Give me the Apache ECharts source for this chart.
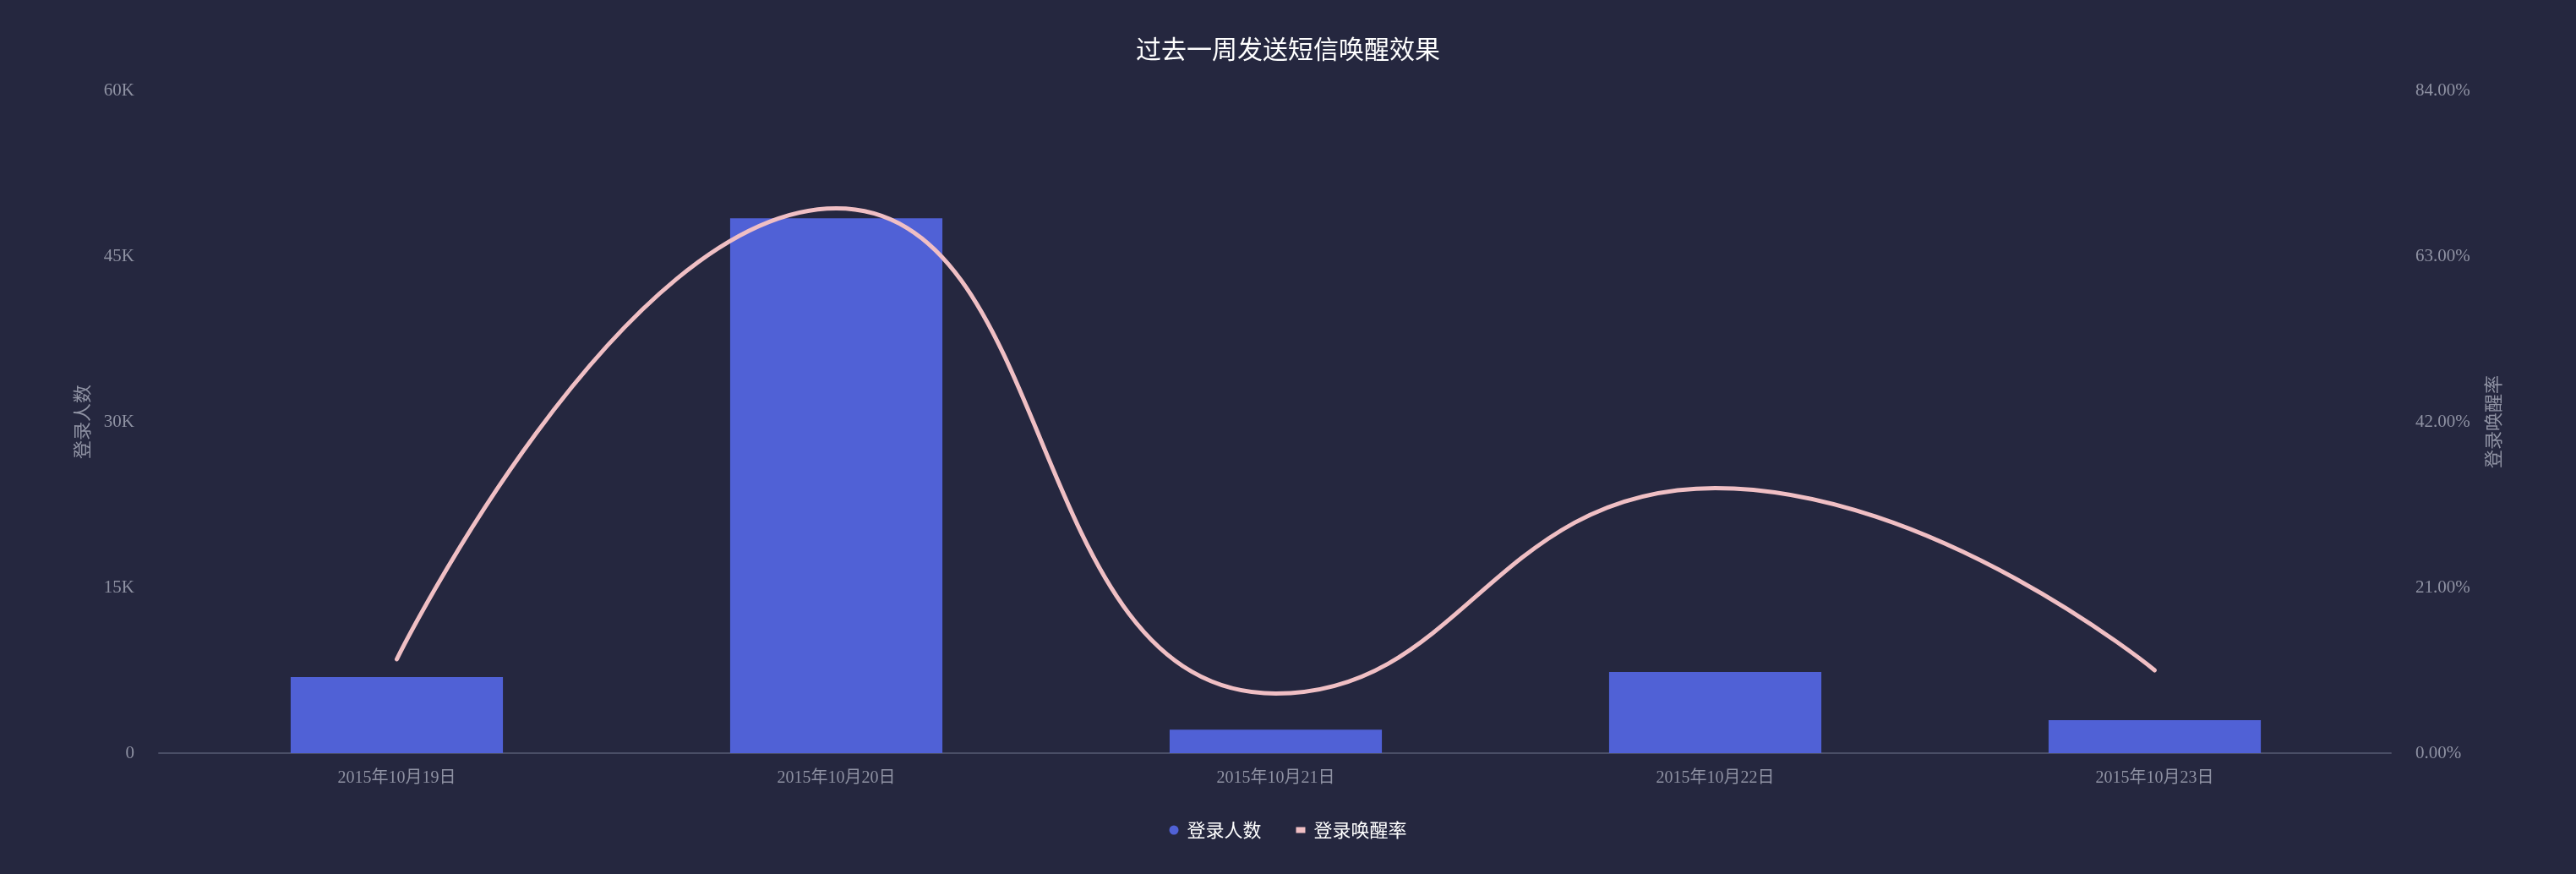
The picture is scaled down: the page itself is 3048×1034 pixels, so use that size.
<!DOCTYPE html>
<html>
<head>
<meta charset="utf-8">
<script src="https://cdn.jsdelivr.net/npm/echarts@6/dist/echarts.min.js"></script>
<style>
  html, body { margin: 0; padding: 0; background: #25273f; }
  #main { width: 3048px; height: 1034px; }
</style>
</head>
<body>
<div id="main"></div>
<script>
// 数据
const dates = ["2015年10月19日", "2015年10月20日", "2015年10月21日", "2015年10月22日", "2015年10月23日"];
const loginCounts = [6890, 48420, 2120, 7350, 2990];
const wakeRates = [11.9, 69.05, 7.55, 33.6, 10.5];

const countTicks = { min: 0, max: 60000, interval: 15000 };
const rateTicks = { min: 0, max: 84, interval: 21 };

const labelGrey = "#8f92a3";
const serif = "'Liberation Serif', 'Noto Sans CJK SC', serif";
const sans = "'Noto Sans CJK SC', 'Noto Sans', sans-serif";

const chart = echarts.init(document.getElementById("main"), null, { renderer: "canvas" });

chart.setOption({
  backgroundColor: "#25273f",
  animation: false,
  title: {
    text: "过去一周发送短信唤醒效果",
    left: "center",
    top: 38,
    textStyle: { color: "#ffffff", fontSize: 30, fontWeight: "normal", fontFamily: sans },
  },
  legend: {
    left: "center",
    top: 966,
    itemWidth: 11,
    itemHeight: 11,
    itemGap: 41,
    textStyle: { color: "#ffffff", fontSize: 22, fontFamily: sans, padding: [0, 0, 0, 5] },
    data: [
      { name: "登录人数", icon: "circle" },
      { name: "登录唤醒率", icon: "path://M0,0M11,11M0,2L11,2L11,9L0,9Z" },
    ],
  },
  // grid 0 放柱子和折线，grid 1 只画两侧的 y 轴和底线
  grid: [
    { left: 209.5, right: 238.5, top: 107, bottom: 143 },
    { left: 188, right: 219, top: 107, bottom: 143 },
  ],
  xAxis: [
    {
      type: "category",
      gridIndex: 0,
      data: dates,
      axisLine: { show: false },
      axisTick: { show: false },
      axisLabel: { color: labelGrey, fontSize: 20, fontFamily: serif, margin: 20 },
    },
    {
      type: "value",
      gridIndex: 1,
      min: 0,
      max: 1,
      axisLine: { show: true, lineStyle: { color: "#4a4e66", width: 2 } },
      axisTick: { show: false },
      axisLabel: { show: false },
      splitLine: { show: false },
    },
  ],
  yAxis: [
    { type: "value", gridIndex: 0, show: false, min: countTicks.min, max: countTicks.max, splitLine: { show: false } },
    { type: "value", gridIndex: 0, show: false, min: rateTicks.min, max: rateTicks.max, splitLine: { show: false } },
    {
      type: "value",
      gridIndex: 1,
      position: "left",
      name: "登录人数",
      nameLocation: "middle",
      nameGap: 80,
      nameTextStyle: { color: labelGrey, fontSize: 22, fontFamily: sans },
      min: countTicks.min,
      max: countTicks.max,
      interval: countTicks.interval,
      axisLine: { show: false },
      axisTick: { show: false },
      splitLine: { show: false },
      axisLabel: {
        color: labelGrey,
        fontSize: 21,
        fontFamily: serif,
        margin: 29,
        formatter: (v) => (v === 0 ? "0" : v / 1000 + "K"),
      },
    },
    {
      type: "value",
      gridIndex: 1,
      position: "right",
      name: "登录唤醒率",
      nameLocation: "middle",
      nameGap: 110,
      nameTextStyle: { color: labelGrey, fontSize: 22, fontFamily: sans },
      min: rateTicks.min,
      max: rateTicks.max,
      interval: rateTicks.interval,
      axisLine: { show: false },
      axisTick: { show: false },
      splitLine: { show: false },
      axisLabel: {
        color: labelGrey,
        fontSize: 21,
        fontFamily: serif,
        margin: 29,
        formatter: (v) => v.toFixed(2) + "%",
      },
    },
  ],
  series: [
    {
      name: "登录人数",
      type: "bar",
      xAxisIndex: 0,
      yAxisIndex: 0,
      barWidth: "48.3%",
      itemStyle: { color: "#5061d6" },
      data: loginCounts,
    },
    {
      name: "登录唤醒率",
      type: "line",
      xAxisIndex: 0,
      yAxisIndex: 1,
      smooth: true,
      symbol: "none",
      itemStyle: { color: "#f0bfc4" },
      lineStyle: { color: "#f0bfc4", width: 5, cap: "round" },
      data: wakeRates,
    },
  ],
});
</script>
</body>
</html>
